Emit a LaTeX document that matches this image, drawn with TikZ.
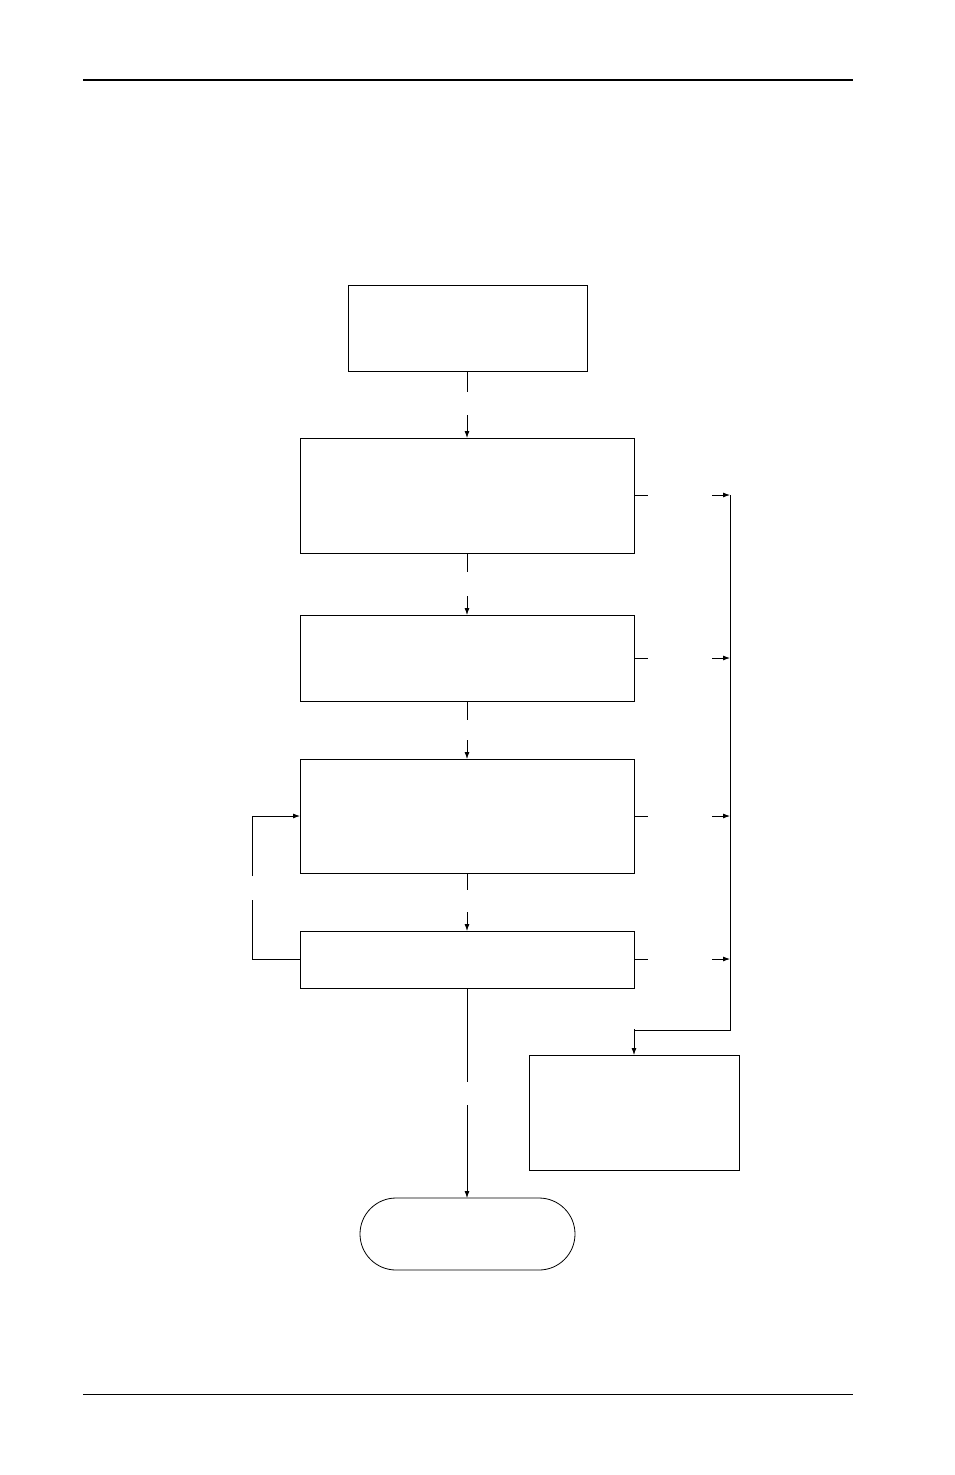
\documentclass[tikz,border=0pt]{standalone}
\usetikzlibrary{arrows.meta}
\begin{document}
\begin{tikzpicture}[x=1pt,y=-1pt,
  box/.style={draw,line width=0.8pt},
  arr/.style={-{Latex[length=7pt,width=5pt]},line width=0.8pt},
  ln/.style={line width=0.8pt}]
\useasboundingbox (0,0) rectangle (954,1475);
\draw[line width=1.6pt] (83,80) -- (853,80);
\draw[line width=0.6pt] (83,1394) -- (853,1394);
\draw[box] (348,285) rectangle (587,371); \coordinate (A) at (467,371);
\draw[box] (300,438) rectangle (634,553);
\draw[box] (300,615) rectangle (634,701);
\draw[box] (300,759) rectangle (634,873);
\draw[box] (300,931) rectangle (634,988);
\draw[box] (529,1055) rectangle (739,1170);
\draw[box,rounded corners=36pt] (360,1198) rectangle (575,1270);
% vertical chain
\foreach \a/\b/\c/\d in {371/392/415/438, 553/572/596/615, 701/720/740/759, 873/890/912/931, 988/1082/1105/1198}{
  \draw[ln] (467,\a) -- (467,\b);
  \draw[arr] (467,\c) -- (467,\d);
}
% right side
\foreach \y in {495,658,816,959}{
  \draw[ln] (634,\y) -- (648,\y);
  \draw[arr] (712,\y) -- (730,\y);
}
\draw[ln] (730,495) -- (730,1030) -- (634,1030);
\draw[arr] (634,1029) -- (634,1055);
% loop
\draw[ln] (300,959) -- (252,959) -- (252,900);
\draw[arr] (252,876) -- (252,816) -- (300,816);
\end{tikzpicture}
\end{document}
